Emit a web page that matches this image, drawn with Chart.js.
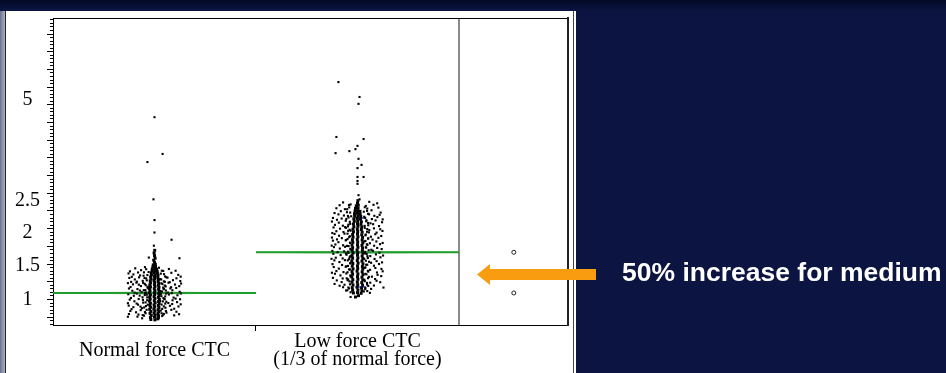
<!DOCTYPE html>
<html>
<head>
<meta charset="utf-8">
<script src="https://cdn.jsdelivr.net/npm/chart.js@4.4.0/dist/chart.umd.min.js"></script>
<style>
  html, body { margin: 0; padding: 0; }
  body { width: 946px; height: 373px; background: #0c1541; position: relative; overflow: hidden; }
  #topband { position: absolute; left: 0; top: 0; width: 946px; height: 11px; background: linear-gradient(#030a26, #0b1542); }
  #strip { position: absolute; left: 0; top: 11px; width: 5px; height: 362px; background: linear-gradient(90deg, #6b728e, #aab0c4); }
  #panel { position: absolute; left: 5px; top: 11px; width: 571px; height: 362px; background: #fff; }
  #edgeL { position: absolute; left: 5px; top: 11px; width: 1px; height: 362px; background: #222; }
  #edgeR { position: absolute; left: 573px; top: 11px; width: 1px; height: 362px; background: #444; }
  #arrow { position: absolute; left: 470px; top: 260px; }
  #note { position: absolute; left: 622px; top: 257px; color: #fff; font: bold 26.5px "Liberation Sans", Arial, sans-serif; line-height: 30px; white-space: nowrap; }
</style>
</head>
<body>
<div id="topband"></div>
<div id="strip"></div>
<div id="panel"><canvas id="myChart" width="571" height="362"></canvas></div>
<div id="edgeL"></div>
<div id="edgeR"></div>
<svg id="arrow" width="130" height="30"><polygon points="7,14.5 20,4 20,9 126,9 126,20 20,20 20,25" fill="#fa9c0f"/></svg>
<div id="note">50% increase for medium</div>
<script>
// categories sit at x = 0 and x = 1, the comparison circles column at 1.77
const categories = ['Normal force CTC', ['Low force CTC', '(1/3 of normal force)']];
const categoryPositions = [0, 1];
const xTickValues = [0, 0.5, 1, 1.5];
const yTickValues = [1, 1.5, 2, 2.5, 5];
const groupMeans = [1.06, 1.67];
const circleColumn = 1.77;

// [jitter, value]
const normalOutliers = [[0,4.5],[0.04,3.59],[-0.035,3.39],[-0.005,2.48],[0,2.16],[0,1.97],[0.084,1.86],[-0.003,1.77],[0.123,1.58],[-0.028,1.59]];
const normalSpine = [
  [-0.018,0.67],[0.002,0.665],[0.016,0.68],[-0.02,0.70],[0,0.705],[0.018,0.695],
  [-0.016,0.73],[0.003,0.735],[0.02,0.725],[-0.022,0.76],[-0.002,0.765],[0.017,0.755],
  [-0.018,0.79],[0.002,0.795],[0.021,0.785],[-0.024,0.82],[-0.003,0.825],[0.018,0.815],
  [-0.019,0.85],[0.001,0.855],[0.022,0.845],[-0.023,0.88],[-0.002,0.885],[0.019,0.875],
  [-0.02,0.91],[0.003,0.915],[0.023,0.905],[-0.025,0.94],[-0.001,0.945],[0.02,0.935],
  [-0.021,0.97],[0.002,0.975],[0.024,0.965],[-0.024,1.0],[-0.002,1.005],[0.019,0.995],
  [-0.02,1.03],[0.001,1.035],[0.023,1.025],[-0.025,1.06],[0,1.065],[0.021,1.055],
  [-0.022,1.09],[0.002,1.095],[0.024,1.085],[-0.024,1.12],[-0.001,1.125],[0.02,1.115],
  [-0.02,1.15],[0.002,1.155],[0.022,1.145],[-0.023,1.18],[0,1.185],[0.019,1.175],
  [-0.019,1.21],[0.001,1.215],[0.021,1.205],[-0.021,1.24],[-0.002,1.245],[0.018,1.235],
  [-0.017,1.27],[0.001,1.275],[0.019,1.265],[-0.019,1.3],[0,1.305],[0.016,1.295],
  [-0.015,1.33],[0.002,1.335],[0.017,1.325],[-0.016,1.36],[-0.001,1.365],[0.014,1.355],
  [-0.012,1.39],[0.001,1.395],[0.013,1.385],[-0.011,1.42],[0.002,1.425],[0.01,1.415],
  [-0.008,1.45],[0.005,1.455],[-0.006,1.48],[0.004,1.49],
  [0,1.52],[-0.004,1.55],[0.003,1.58],[0,1.62],[-0.002,1.66],[0.001,1.7]
];
const normalCloud = [
  [-0.095,1.428],[-0.047,1.446],[0.022,1.437],[0.071,1.418],[0.104,1.392],[-0.121,1.383],[-0.066,1.401],[0.043,1.389],
  [-0.128,1.352],[-0.104,1.337],[-0.081,1.366],[-0.054,1.318],[-0.029,1.373],[0.031,1.349],[0.052,1.307],[0.083,1.361],[0.117,1.331],[0.129,1.304],[-0.112,1.301],[-0.071,1.322],
  [-0.124,1.284],[-0.097,1.262],[-0.076,1.293],[-0.058,1.241],[-0.041,1.277],[0.028,1.268],[0.046,1.233],[0.064,1.289],[0.091,1.251],[0.108,1.279],[0.127,1.238],[-0.115,1.226],[-0.087,1.229],[0.075,1.221],
  [-0.131,1.207],[-0.106,1.188],[-0.089,1.214],[-0.067,1.163],[-0.048,1.196],[-0.033,1.152],[0.034,1.204],[0.051,1.171],[0.069,1.213],[0.082,1.146],[0.101,1.186],[0.122,1.162],[-0.118,1.149],[0.131,1.201],[-0.077,1.184],[0.043,1.141],
  [-0.126,1.127],[-0.109,1.093],[-0.084,1.118],[-0.063,1.072],[-0.045,1.104],[-0.031,1.131],[0.029,1.087],[0.047,1.123],[0.066,1.066],[0.088,1.101],[0.107,1.135],[0.124,1.078],[-0.098,1.064],[0.078,1.129],[-0.072,1.097],[0.056,1.097],
  [-0.129,1.041],[-0.102,1.018],[-0.087,1.052],[-0.059,0.996],[-0.038,1.034],[0.032,1.048],[0.053,1.009],[0.071,1.037],[0.094,0.991],[0.113,1.026],[0.13,1.053],[-0.116,0.986],[-0.073,1.021],[0.044,0.984],[0.085,1.058],[-0.047,1.061],
  [-0.122,0.962],[-0.099,0.937],[-0.078,0.971],[-0.056,0.918],[-0.036,0.953],[0.028,0.941],[0.049,0.968],[0.068,0.912],[0.089,0.952],[0.111,0.925],[0.126,0.967],[-0.131,0.909],[-0.088,0.904],[0.058,0.931],[0.104,0.976],
  [-0.127,0.874],[-0.104,0.851],[-0.081,0.888],[-0.062,0.836],[-0.042,0.867],[0.035,0.889],[0.054,0.843],[0.076,0.871],[0.097,0.828],[0.118,0.861],[-0.113,0.822],[0.129,0.893],[-0.069,0.859],[0.087,0.897],
  [-0.119,0.795],[-0.091,0.776],[-0.068,0.808],[-0.044,0.762],[0.031,0.801],[0.059,0.771],[0.083,0.812],[0.108,0.784],[-0.126,0.751],[0.121,0.748],[-0.079,0.743],[0.046,0.753],
  [-0.131,0.711],[-0.084,0.712],[-0.052,0.726],[0.038,0.721],[0.097,0.731],[0.021,0.695],[-0.061,0.688],
  [-0.041,1.415],[0.036,1.392],[-0.052,1.368],[0.047,1.341],[-0.035,1.327],[0.058,1.296],[-0.049,1.284],[0.033,1.262],
  [-0.038,1.248],[0.051,1.227],[-0.056,1.211],[0.039,1.193],[-0.043,1.176],[0.055,1.158],[-0.034,1.142],[0.045,1.118],
  [-0.053,1.101],[0.037,1.083],[-0.041,1.068],[0.057,1.051],[-0.048,1.029],[0.034,1.012],[-0.036,0.994],[0.049,0.972],
  [-0.057,0.958],[0.041,0.936],[-0.044,0.921],[0.053,0.903],[-0.033,0.887],[0.046,0.862],[-0.051,0.847],[0.038,0.826],
  [-0.039,0.812],[0.056,0.795],[-0.047,0.779],[0.035,0.761],[-0.058,0.736],[0.043,0.742]
];

const lowOutliers = [[-0.094,5.37],[0.01,5.0],[0.005,4.83],[-0.104,4.01],[0.03,3.96],[-0.108,3.61],[-0.04,3.66],[-0.01,3.71],[0,3.79],[0.005,3.47],[0,3.24],[0.02,3.32],[0,3.02],[0.03,3.02],[0,2.92],[0,2.85],[0.005,2.57],[0.01,2.48]];
const lowSpine = [
  [-0.01,1.0],[0.005,1.02],
  [-0.02,1.06],[0,1.065],[0.018,1.055],[-0.024,1.1],[0.002,1.105],[0.022,1.095],
  [-0.026,1.14],[-0.002,1.145],[0.02,1.135],[-0.022,1.18],[0.001,1.185],[0.025,1.175],
  [-0.027,1.22],[-0.001,1.225],[0.021,1.215],[-0.023,1.26],[0.002,1.265],[0.026,1.255],
  [-0.028,1.3],[0,1.305],[0.022,1.295],[-0.024,1.34],[0.002,1.345],[0.027,1.335],
  [-0.027,1.38],[-0.002,1.385],[0.023,1.375],[-0.022,1.42],[0.001,1.425],[0.026,1.415],
  [-0.026,1.46],[0,1.465],[0.024,1.455],[-0.023,1.5],[0.003,1.505],[0.027,1.495],
  [-0.028,1.54],[-0.001,1.545],[0.022,1.535],[-0.024,1.58],[0.002,1.585],[0.026,1.575],
  [-0.027,1.62],[0,1.625],[0.023,1.615],[-0.022,1.66],[0.001,1.665],[0.027,1.655],
  [-0.026,1.7],[-0.002,1.705],[0.024,1.695],[-0.024,1.74],[0.002,1.745],[0.025,1.735],
  [-0.027,1.78],[0,1.785],[0.022,1.775],[-0.023,1.82],[0.001,1.825],[0.026,1.815],
  [-0.025,1.86],[-0.001,1.865],[0.023,1.855],[-0.022,1.9],[0.002,1.905],[0.025,1.895],
  [-0.024,1.94],[0,1.945],[0.021,1.935],[-0.02,1.98],[0.001,1.985],[0.023,1.975],
  [-0.022,2.02],[-0.001,2.025],[0.019,2.015],[-0.018,2.06],[0.002,2.065],[0.021,2.055],
  [-0.02,2.1],[0,2.105],[0.017,2.095],[-0.016,2.14],[0.001,2.145],[0.019,2.135],
  [-0.018,2.18],[-0.001,2.185],[0.015,2.175],[-0.014,2.22],[0.002,2.225],[0.016,2.215],
  [-0.015,2.26],[0,2.265],[0.013,2.255],[-0.012,2.3],[0.001,2.305],[0.012,2.295],
  [-0.01,2.34],[0.003,2.345],[-0.006,2.38],[0.004,2.39],
  [0,2.42],[0.002,2.46]
];
const lowCloud = [
  [-0.071,2.432],[0.058,2.441],[0.097,2.418],[-0.088,2.389],[-0.034,2.401],[0.041,2.378],[0.079,2.395],
  [-0.104,2.342],[-0.062,2.328],[-0.041,2.356],[0.048,2.337],[0.069,2.311],[0.103,2.352],[-0.082,2.297],[0.031,2.289],[0.114,2.276],[-0.113,2.268],[-0.052,2.281],
  [-0.094,2.248],[-0.067,2.231],[-0.031,2.219],[0.052,2.257],[0.083,2.226],[0.109,2.241],[-0.121,2.193],[-0.078,2.184],[-0.044,2.201],[0.038,2.195],[0.071,2.176],[0.098,2.207],[-0.101,2.165],[0.124,2.171],
  [-0.126,2.138],[-0.092,2.121],[-0.058,2.149],[-0.036,2.103],[0.043,2.142],[0.064,2.111],[0.089,2.155],[0.121,2.127],[-0.111,2.087],[-0.072,2.074],[0.053,2.081],[0.106,2.068],[-0.047,2.063],[0.077,2.097],
  [-0.118,2.047],[-0.086,2.028],[-0.061,2.052],[-0.039,2.012],[0.036,2.041],[0.058,2.006],[0.081,2.033],[0.112,2.019],[-0.104,1.989],[-0.069,1.977],[0.047,1.981],[0.094,1.968],[0.123,1.993],[-0.124,1.962],[-0.046,1.995],
  [-0.113,1.948],[-0.091,1.921],[-0.064,1.952],[-0.037,1.913],[0.041,1.939],[0.066,1.906],[0.088,1.944],[0.117,1.917],[-0.126,1.893],[-0.077,1.884],[-0.049,1.871],[0.052,1.878],[0.103,1.889],[0.074,1.862],[-0.101,1.865],
  [-0.121,1.847],[-0.094,1.823],[-0.058,1.851],[-0.036,1.816],[0.039,1.842],[0.061,1.807],[0.093,1.834],[0.124,1.811],[-0.109,1.788],[-0.071,1.776],[0.049,1.781],[0.082,1.769],[0.111,1.793],[-0.044,1.764],[-0.127,1.771],
  [-0.116,1.748],[-0.087,1.727],[-0.061,1.753],[-0.034,1.712],[0.043,1.741],[0.068,1.708],[0.097,1.736],[0.119,1.719],[-0.124,1.691],[-0.098,1.672],[-0.066,1.684],[0.038,1.676],[0.076,1.692],[0.108,1.664],[-0.045,1.661],
  [-0.119,1.647],[-0.083,1.628],[-0.057,1.651],[-0.036,1.609],[0.045,1.644],[0.063,1.612],[0.091,1.638],[0.126,1.621],[-0.107,1.588],[-0.073,1.577],[0.051,1.583],[0.084,1.569],[0.113,1.594],[-0.042,1.566],[-0.128,1.571],
  [-0.114,1.548],[-0.089,1.522],[-0.062,1.551],[-0.035,1.508],[0.041,1.543],[0.067,1.511],[0.094,1.536],[0.121,1.517],[-0.123,1.491],[-0.076,1.478],[0.048,1.482],[0.081,1.467],[0.106,1.493],[-0.047,1.464],
  [-0.117,1.448],[-0.092,1.424],[-0.058,1.452],[-0.037,1.411],[0.039,1.441],[0.062,1.406],[0.088,1.433],[0.118,1.419],[-0.104,1.387],[-0.069,1.372],[0.053,1.379],[0.096,1.366],[-0.126,1.362],[0.124,1.384],
  [-0.111,1.347],[-0.084,1.322],[-0.055,1.351],[-0.034,1.309],[0.044,1.338],[0.071,1.304],[0.099,1.331],[0.117,1.312],[-0.121,1.286],[-0.073,1.277],[0.052,1.281],[0.087,1.268],[-0.046,1.264],
  [-0.102,1.248],[-0.078,1.223],[-0.049,1.251],[0.036,1.236],[0.063,1.214],[0.094,1.242],[0.112,1.221],[-0.113,1.195],[-0.064,1.183],[0.047,1.188],[0.081,1.171],[-0.088,1.168],
  [-0.071,1.146],[-0.042,1.128],[0.039,1.139],[0.067,1.121],[0.128,1.141],[-0.056,1.097],[0.048,1.089],[-0.034,1.071],[0.061,1.062],[-0.034,1.0],
  [-0.042,2.392],[0.036,2.358],[-0.051,2.327],[0.047,2.302],[-0.036,2.276],[0.057,2.249],[-0.047,2.224],[0.033,2.211],
  [-0.055,2.178],[0.044,2.158],[-0.038,2.134],[0.052,2.117],[-0.045,2.089],[0.035,2.071],[-0.057,2.041],[0.048,2.022],
  [-0.034,1.998],[0.056,1.971],[-0.049,1.952],[0.039,1.927],[-0.041,1.899],[0.053,1.881],[-0.056,1.856],[0.034,1.834],
  [-0.037,1.811],[0.046,1.792],[-0.052,1.767],[0.041,1.746],[-0.035,1.723],[0.055,1.701],[-0.046,1.679],[0.037,1.657],
  [-0.054,1.633],[0.049,1.611],[-0.039,1.592],[0.033,1.571],[-0.048,1.547],[0.057,1.526],[-0.036,1.502],[0.043,1.481],
  [-0.055,1.458],[0.036,1.437],[-0.042,1.412],[0.051,1.391],[-0.049,1.369],[0.039,1.346],[-0.035,1.323],[0.056,1.301],
  [-0.053,1.279],[0.034,1.257],[-0.04,1.234],[0.047,1.211],[-0.037,1.189],[0.053,1.166],[-0.045,1.142],[0.038,1.118],
  [-0.05,1.101],[0.031,1.083]
];
const lowQuantiles = [1.15, 2.19];

// the value axis is not linear: these are the value -> height fractions
const warpValues = [0.59, 1, 1.5, 2, 2.5, 5, 6.96];
const warpStops = [0, 0.0912, 0.2003, 0.3078, 0.4137, 0.7427, 1];

function interp(v, from, to) {
  let i = 1;
  while (i < from.length - 1 && v > from[i]) i++;
  const t = (v - from[i - 1]) / (from[i] - from[i - 1]);
  return to[i - 1] + t * (to[i] - to[i - 1]);
}

class WarpScale extends Chart.LinearScale {
  buildTicks() {
    return yTickValues.map(v => ({ value: v }));
  }
  getPixelForValue(v) {
    return this.getPixelForDecimal(interp(v, warpValues, warpStops));
  }
  getValueForPixel(px) {
    return interp(this.getDecimalForPixel(px), warpStops, warpValues);
  }
}
WarpScale.id = 'warp';
WarpScale.defaults = {};
Chart.register(WarpScale);

function toPoints(pairs, center) {
  return pairs.map(p => ({ x: center + p[0], y: p[1] }));
}

function meanLine(i) {
  const c = categoryPositions[i];
  return [{ x: c - 0.5, y: groupMeans[i] }, { x: c + 0.5, y: groupMeans[i] }];
}

function meanDiamond(i, k) {
  const c = categoryPositions[i];
  const m = groupMeans[i];
  return [{ x: c - 0.5, y: m }, { x: c, y: m * k }, { x: c + 0.5, y: m }];
}

// no extra room for labels sticking out of the axes
function noPad(s) {
  s.paddingTop = 0; s.paddingBottom = 0; s.paddingLeft = 0; s.paddingRight = 0;
}

const serif = '"Liberation Serif", "Times New Roman", serif';
const dot = { pointStyle: 'rect', pointRadius: 1.5, pointBorderWidth: 0, backgroundColor: '#000', borderColor: '#000' };
const spineDot = { pointStyle: 'rect', pointRadius: 2.1, pointBorderWidth: 0, backgroundColor: '#000', borderColor: '#000' };
const green = '#1f9e2b';
const diamondColor = 'rgba(31,158,43,0.55)';

var ctx = document.getElementById('myChart').getContext('2d');
var myChart = new Chart(ctx, {
  type: 'scatter',
  data: {
    datasets: [
      Object.assign({ data: toPoints(normalCloud, categoryPositions[0]) }, dot),
      Object.assign({ data: toPoints(normalOutliers, categoryPositions[0]) }, dot),
      Object.assign({ data: toPoints(normalSpine, categoryPositions[0]) }, spineDot),
      Object.assign({ data: toPoints(lowCloud, categoryPositions[1]) }, dot),
      Object.assign({ data: toPoints(lowOutliers, categoryPositions[1]) }, dot),
      Object.assign({ data: toPoints(lowSpine, categoryPositions[1]) }, spineDot),
      {
        data: [{ x: categoryPositions[1] - 0.01, y: lowQuantiles[0] }, { x: categoryPositions[1] + 0.04, y: lowQuantiles[0] }],
        showLine: true, pointRadius: 0, borderColor: '#3050e0', borderWidth: 1.5
      },
      {
        data: [{ x: categoryPositions[1] - 0.01, y: lowQuantiles[1] }, { x: categoryPositions[1] + 0.04, y: lowQuantiles[1] }],
        showLine: true, pointRadius: 0, borderColor: '#3050e0', borderWidth: 1.5
      },
      {
        data: [{ x: circleColumn, y: groupMeans[0] }, { x: circleColumn, y: groupMeans[1] }],
        pointStyle: 'circle', pointRadius: 2, pointBorderWidth: 1, borderColor: '#222', backgroundColor: '#fff'
      },
      { data: meanLine(0), showLine: true, pointRadius: 0, borderColor: green, borderWidth: 2 },
      { data: meanLine(1), showLine: true, pointRadius: 0, borderColor: green, borderWidth: 2 },
      { data: meanDiamond(0, 1.014), showLine: true, pointRadius: 0, borderColor: diamondColor, borderWidth: 1 },
      { data: meanDiamond(0, 0.986), showLine: true, pointRadius: 0, borderColor: diamondColor, borderWidth: 1 },
      { data: meanDiamond(1, 1.009), showLine: true, pointRadius: 0, borderColor: diamondColor, borderWidth: 1 },
      { data: meanDiamond(1, 0.991), showLine: true, pointRadius: 0, borderColor: diamondColor, borderWidth: 1 }
    ]
  },
  options: {
    responsive: false,
    animation: false,
    devicePixelRatio: 1,
    layout: { padding: { top: 7, right: 8, bottom: 0, left: 0 } },
    plugins: { legend: { display: false }, tooltip: { enabled: false } },
    scales: {
      x: {
        type: 'linear', position: 'bottom', min: -0.5, max: 2.037,
        afterFit: s => { s.height = 48; noPad(s); },
        afterBuildTicks: s => { s.ticks = xTickValues.map(v => ({ value: v })); },
        grid: {
          drawOnChartArea: true, drawTicks: true, tickLength: 6, tickWidth: 1,
          color: c => (c.tick && c.tick.value === 1.5) ? '#8a8a8a' : 'rgba(0,0,0,0)',
          lineWidth: c => (c.tick && c.tick.value === 1.5) ? 2 : 1,
          tickColor: c => (c.tick && c.tick.value === 0.5) ? '#000' : 'rgba(0,0,0,0)'
        },
        border: { display: true, color: '#000', width: 1 },
        ticks: {
          autoSkip: false, maxRotation: 0, minRotation: 0, crossAlign: 'center', padding: 11,
          color: '#000', font: { family: serif, size: 20, lineHeight: 0.9 },
          callback: v => {
            const i = categoryPositions.indexOf(v);
            return i >= 0 ? categories[i] : '';
          }
        }
      },
      xTop: {
        type: 'linear', position: 'top', min: -0.5, max: 2.037,
        afterFit: s => { s.height = 0; noPad(s); },
        grid: { display: false }, ticks: { display: false },
        border: { display: true, color: '#000', width: 1 }
      },
      y: {
        type: 'warp', position: 'left', weight: 1, min: 0.59, max: 6.96,
        afterFit: s => { s.width = 48; noPad(s); },
        grid: { display: false, drawTicks: false },
        border: { display: true, color: '#000', width: 1 },
        ticks: {
          autoSkip: false, crossAlign: 'center', padding: 13, labelOffset: 2.5, color: '#000',
          font: { family: serif, size: 20, lineHeight: 1 },
          callback: v => String(v)
        }
      },
      rulerMajor: {
        type: 'linear', position: 'left', weight: 0, min: 0, max: 307,
        afterFit: s => { s.width = 0; noPad(s); },
        afterBuildTicks: s => {
          const t = [];
          for (let p = 7.8; p <= 307; p += 17.7) t.push({ value: p });
          s.ticks = t;
        },
        grid: { drawOnChartArea: false, drawTicks: true, tickLength: 6, tickColor: '#000', tickWidth: 1 },
        border: { display: false }, ticks: { display: false }
      },
      rulerMinor: {
        type: 'linear', position: 'left', weight: 0, min: 0, max: 307,
        afterFit: s => { s.width = 0; noPad(s); },
        afterBuildTicks: s => {
          const t = [];
          for (let p = 0.72; p <= 307; p += 3.54) t.push({ value: p });
          s.ticks = t;
        },
        grid: { drawOnChartArea: false, drawTicks: true, tickLength: 3, tickColor: '#000', tickWidth: 1 },
        border: { display: false }, ticks: { display: false }
      },
      yRight: {
        type: 'linear', position: 'right', min: 0, max: 1,
        afterFit: s => { s.width = 0; noPad(s); },
        grid: { display: false }, ticks: { display: false },
        border: { display: true, color: '#222', width: 2 }
      }
    }
  }
});
</script>
</body>
</html>
